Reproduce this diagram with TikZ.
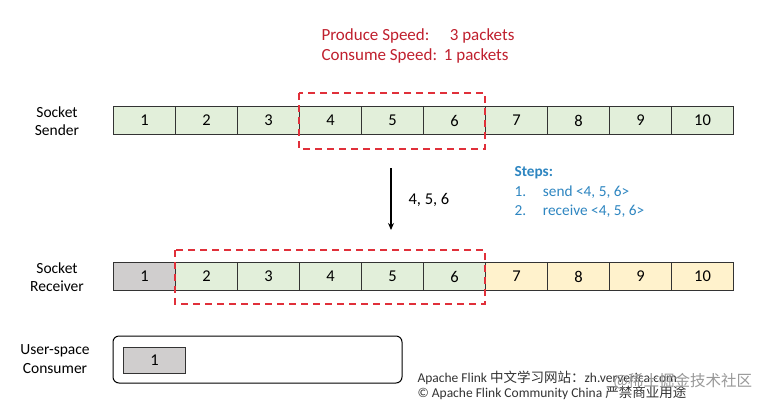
\documentclass[tikz,border=0pt]{standalone}
\usepackage{fontspec}
\setmainfont{Carlito}
\newfontfamily\cjk{Noto Sans CJK SC}
\usetikzlibrary{arrows.meta}
\definecolor{cgreen}{HTML}{E2EFDA}
\definecolor{cyellow}{HTML}{FFF2CC}
\definecolor{cgray}{HTML}{D0CECE}
\definecolor{cred}{HTML}{E0303A}
\definecolor{tred}{HTML}{C0202E}
\definecolor{tblue}{HTML}{2E86C1}
\begin{document}
\begin{tikzpicture}[x=1pt,y=-1pt,
  cell/.style={draw=black!80,line width=1pt,minimum width=62pt,minimum height=28pt,inner sep=0pt,anchor=north west,font=\fontsize{16.5}{16.5}\selectfont},
  rowlabel/.style={align=center,font=\fontsize{15.5}{18.5}\selectfont},
  redbox/.style={draw=cred,line width=1.6pt,dash pattern=on 7pt off 5pt},
  steptext/.style={text=tblue,anchor=west,font=\fontsize{15.3}{17}\selectfont},
  wm/.style={anchor=west,font=\fontsize{13.5}{15}\selectfont,text=black!80}]
\useasboundingbox (0,0) rectangle (768,405);
\fill[white] (0,0) rectangle (768,405);
% red header
\node[text=tred,anchor=west,font=\fontsize{17}{18}\selectfont] (ps) at (318,36) {Produce Speed:\hspace{1.2em}3 packets};
\node[text=tred,anchor=west,font=\fontsize{17}{18}\selectfont] (cs) at (318,56) {Consume Speed:\hspace{0.4em}1 packets};
% labels
\node[rowlabel] (ls) at (57,121) {Socket\\Sender};
\node[rowlabel] (lr) at (57,277) {Socket\\Receiver};
\node[rowlabel] (lu) at (55,359) {User-space\\Consumer};
% sender row
\foreach \i in {1,...,10}{
  \node[cell,fill=cgreen] (s\i) at ({113+62*(\i-1)},106) {\i};
}
% receiver row
\node[cell,fill=cgray] (r1) at (113,262) {1};
\foreach \i in {2,...,6}{
  \node[cell,fill=cgreen] (r\i) at ({113+62*(\i-1)},262) {\i};
}
\foreach \i in {7,...,10}{
  \node[cell,fill=cyellow] (r\i) at ({113+62*(\i-1)},262) {\i};
}
% red dashed boxes
\draw[redbox] (299,93) rectangle (485,149);
\draw[redbox] (175,250) rectangle (485,304);
% arrow
\coordinate (a1) at (391,168);
\coordinate (a2) at (391,230);
\draw[line width=1.2pt,-{Stealth[length=7pt,width=6pt]}] (a1) -- (a2);
\node[anchor=west,font=\fontsize{16.5}{18}\selectfont] (al) at (405,200) {4, 5, 6};
% steps
\node[steptext,font=\bfseries\fontsize{15.3}{17}\selectfont] (st) at (511,173) {Steps:};
\node[steptext] (st1) at (511,192) {1.\hspace{1.1em}send <4, 5, 6>};
\node[steptext] (st2) at (511,211) {2.\hspace{1.1em}receive <4, 5, 6>};
% consumer
\draw[line width=1pt,rounded corners=6pt] (113,336) rectangle (402,383);
\node[cell,fill=cgray,minimum height=26pt] (c1) at (123,347) {1};
% watermark
\node[wm] (w1) at (414,378) {Apache Flink {\cjk 中文学习网站：}zh.ververica.com};
\node[wm] (w2) at (414,393) {© Apache Flink Community China {\cjk 严禁商业用途}};
\node[anchor=west,text=black!40,font=\cjk\fontsize{15.5}{16}\selectfont] (w3) at (610,381) {@稀土掘金技术社区};
\end{tikzpicture}
\end{document}
